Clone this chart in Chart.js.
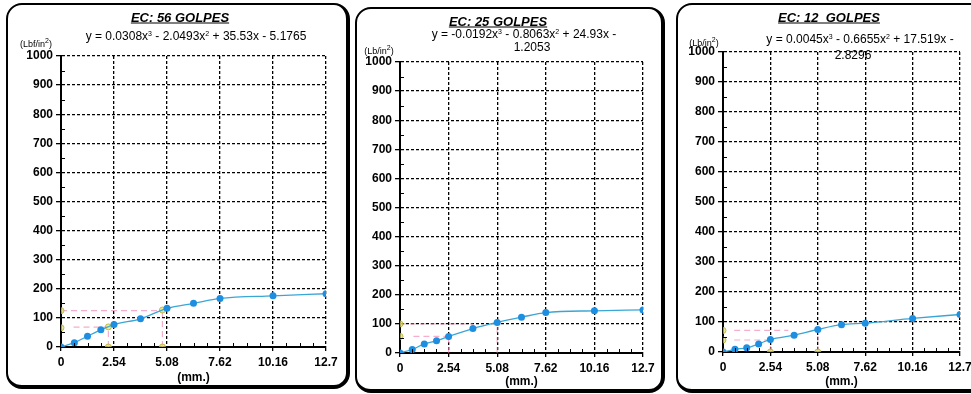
<!DOCTYPE html>
<html>
<head>
<meta charset="utf-8">
<script src="https://cdn.jsdelivr.net/npm/chart.js@4.4.1/dist/chart.umd.min.js"></script>
<style>
  body { margin: 0; width: 971px; height: 394px; overflow: hidden; background: #fff; position: relative; font-family: "Liberation Sans", Arial, sans-serif; }
  .box { position: absolute; box-sizing: border-box; border: 2px solid #000; border-right-width: 4px; border-bottom-width: 4px; border-radius: 16px; }
  canvas { position: absolute; }
  .txt { position: absolute; white-space: nowrap; color: #000; transform: translate(-50%, -50%); }
  .title { font-size: 13px; font-weight: bold; font-style: italic; text-decoration: underline; }
  .eq { font-size: 12px; }
  .unit { font-size: 9px; }
  sup { font-size: 7px; line-height: 0; vertical-align: 4px; }
</style>
</head>
<body>
  <div class="box" style="left:6px;top:3px;width:344px;height:386px"></div>
  <div class="box" style="left:355px;top:7px;width:310px;height:386px"></div>
  <div class="box" style="left:676px;top:3px;width:320px;height:390px"></div>

  <canvas id="chart56" width="342" height="385" style="left:6px;top:3px"></canvas>
  <canvas id="chart25" width="309" height="385" style="left:355px;top:7px"></canvas>
  <canvas id="chart12" width="310" height="389" style="left:676px;top:3px"></canvas>

  <div class="txt title" style="left:180px;top:17px">EC: 56 GOLPES</div>
  <div class="txt eq" style="left:196px;top:36px">y = 0.0308x<sup>3</sup> - 2.0493x<sup>2</sup> + 35.53x - 5.1765</div>
  <div class="txt unit" style="left:36px;top:44px">(Lbf/in<sup>2</sup>)</div>

  <div class="txt title" style="left:498px;top:21px">EC: 25 GOLPES</div>
  <div class="txt eq" style="left:524px;top:34px">y = -0.0192x<sup>3</sup> - 0.8063x<sup>2</sup> + 24.93x -</div>
  <div class="txt eq" style="left:532px;top:47px">1.2053</div>
  <div class="txt unit" style="left:379px;top:51px">(Lb/in<sup>2</sup>)</div>

  <div class="txt title" style="left:829px;top:17px">EC: 12&nbsp; GOLPES</div>
  <div class="txt eq" style="left:860px;top:39px">y = 0.0045x<sup>3</sup> - 0.6655x<sup>2</sup> + 17.519x -</div>
  <div class="txt eq" style="left:853px;top:55px">2.8296</div>
  <div class="txt unit" style="left:704px;top:43px">(Lb/in<sup>2</sup>)</div>

<script>
// penetracion (mm) y carga (lb/in2) por energia de compactacion
const penetration = [0, 0.64, 1.27, 1.91, 2.54, 3.81, 5.08, 6.35, 7.62, 10.16, 12.7]
const load56 = [0, 15, 37, 59, 77, 97, 133, 150, 167, 176, 183]
const load25 = [0, 12, 31, 42, 57, 84, 105, 123, 139, 145, 148]
const load12 = [0, 9, 14, 27, 42, 56, 75, 91, 96, 112, 125]

const xTicks = [0, 2.54, 5.08, 7.62, 10.16, 12.7]
const yMin = 0
const yMax = 1000
const yStep = 100

// lineas de correccion (x1, y1, x2, y2) y marcas auxiliares
const guide56Lines = [[0, 125, 4.86, 125], [0.6, 68, 2.27, 68], [2.27, 0, 2.27, 69], [4.86, 0, 4.86, 127]]
const guide56X = [0, 0, 2.27, 4.86, 2.27, 4.86]
const guide56Y = [125, 66, 0, 0, 69, 127]

const guide25Lines = [[0, 100, 3.8, 100], [0.7, 57, 2.54, 57], [2.54, 0, 2.54, 57], [5.08, 0, 5.08, 105]]
const guide25X = [0, 0]
const guide25Y = [100, 57]

const guide12Lines = [[0.6, 72, 3.5, 72], [0.6, 40, 2.54, 40], [2.54, 0, 2.54, 42], [5.08, 0, 5.08, 75]]
const guide12X = [0, 0, 2.54, 5.08]
const guide12Y = [72, 40, 0, 0]

const minorStepX = 0.635
const minorStepY = 50

Chart.defaults.font.family = "'Liberation Sans', Arial, sans-serif"
Chart.defaults.color = "#000"

const minorTicks = {
  id: "minorTicks",
  afterDraw(chart) {
    const { ctx, scales: { x, y } } = chart
    ctx.save()
    ctx.strokeStyle = "#000"
    ctx.lineWidth = 1
    ctx.beginPath()
    for (let i = 1; i * minorStepX < 12.7 - 0.01; i++) {
      if (i % 4 === 0) continue
      const px = Math.round(x.getPixelForValue(i * minorStepX)) + 0.5
      ctx.moveTo(px, y.bottom)
      ctx.lineTo(px, y.bottom - 4)
    }
    for (let v = minorStepY; v < yMax; v += yStep) {
      const py = Math.round(y.getPixelForValue(v)) + 0.5
      ctx.moveTo(x.left, py)
      ctx.lineTo(x.left + 4, py)
    }
    ctx.stroke()
    ctx.restore()
  }
}

function makeChart(id, area, loads, guideLines, guideX, guideY) {
  const canvas = document.getElementById(id)
  const W = canvas.width
  const H = canvas.height

  const datasets = [{
    label: "Carga",
    data: penetration.map((p, i) => ({ x: p, y: loads[i] })),
    showLine: true,
    cubicInterpolationMode: "monotone",
    borderColor: "#3aa6d6",
    borderWidth: 1.3,
    pointRadius: 3.5,
    pointBackgroundColor: "#1e8ee0",
    pointBorderWidth: 0
  }, {
    label: "Marcas",
    data: guideX.map((gx, i) => ({ x: gx, y: guideY[i] })),
    showLine: false,
    pointRadius: 3,
    pointBackgroundColor: "rgba(225,225,110,0.7)",
    pointBorderColor: "rgba(175,175,50,0.8)",
    pointBorderWidth: 1
  }]

  guideLines.forEach(g => {
    datasets.push({
      label: "Guia",
      data: [{ x: g[0], y: g[1] }, { x: g[2], y: g[3] }],
      showLine: true,
      borderColor: "rgba(238,120,170,0.6)",
      borderWidth: 1.2,
      borderDash: [6, 4],
      pointRadius: 0
    })
  })

  return new Chart(canvas, {
    type: "scatter",
    data: { datasets },
    plugins: [minorTicks],
    options: {
      responsive: false,
      animation: false,
      events: [],
      layout: { padding: { top: area.top, right: W - area.right, left: 0, bottom: 0 } },
      plugins: {
        legend: { display: false },
        tooltip: { enabled: false }
      },
      scales: {
        x: {
          type: "linear",
          min: 0,
          max: 12.7,
          afterBuildTicks: (s) => { s.ticks = xTicks.map(v => ({ value: v })) },
          afterFit: (s) => { s.height = H - area.bottom },
          ticks: {
            autoSkip: false,
            maxRotation: 0,
            padding: 4,
            font: { size: 12, weight: "bold" },
            callback: (v) => String(v)
          },
          grid: { color: "#000", lineWidth: 1.3, tickLength: 4 },
          border: { display: true, color: "#000", width: 2, dash: [3, 2] },
          title: {
            display: true,
            text: "(mm.)",
            font: { size: 12, weight: "bold" },
            padding: { top: 0, bottom: 3 }
          }
        },
        y: {
          min: yMin,
          max: yMax,
          afterFit: (s) => { s.width = area.left },
          ticks: {
            stepSize: yStep,
            padding: 3,
            font: { size: 12, weight: "bold" },
            callback: (v) => String(v)
          },
          grid: { color: "#000", lineWidth: 1.3, tickLength: 5 },
          border: { display: true, color: "#000", width: 2, dash: [3, 2] }
        }
      }
    }
  })
}

makeChart("chart56", { left: 55, right: 320, top: 53, bottom: 344 }, load56, guide56Lines, guide56X, guide56Y)
makeChart("chart25", { left: 45, right: 288, top: 55, bottom: 346 }, load25, guide25Lines, guide25X, guide25Y)
makeChart("chart12", { left: 47, right: 284, top: 49, bottom: 349 }, load12, guide12Lines, guide12X, guide12Y)
</script>
</body>
</html>
